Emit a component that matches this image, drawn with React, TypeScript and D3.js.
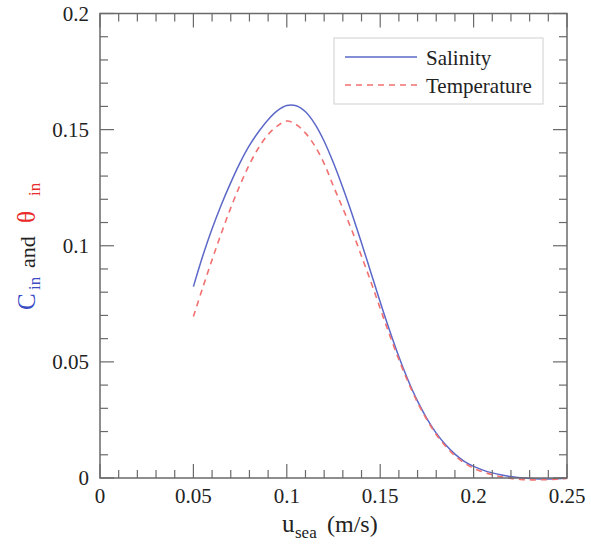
import React from "react";
import * as d3 from "d3";

const uSea = [0.05,0.055,0.06,0.065,0.07,0.075,0.08,0.085,0.09,0.095,0.1,0.105,0.11,0.115,0.12,0.125,0.13,0.135,0.14,0.145,0.15,0.155,0.16,0.165,0.17,0.175,0.18,0.185,0.19,0.195,0.2,0.205,0.21,0.215,0.22,0.225,0.23,0.235,0.24,0.245,0.25];
const salinity = [0.0824,0.0956,0.1073,0.1178,0.1272,0.1358,0.1432,0.1492,0.1543,0.1582,0.1604,0.1603,0.1577,0.1525,0.1450,0.1356,0.1250,0.1135,0.1012,0.0885,0.0758,0.0636,0.0522,0.0420,0.0331,0.0256,0.0193,0.0143,0.0103,0.0072,0.0050,0.0034,0.0022,0.0013,0.0006,0.0001,-0.0002,-0.0004,-0.0004,-0.0003,-0.0001];
const temperature = [0.0695,0.0820,0.0940,0.1055,0.1163,0.1262,0.1350,0.1423,0.1479,0.1516,0.1537,0.1522,0.1485,0.1430,0.1354,0.1256,0.1161,0.1063,0.0955,0.0845,0.0730,0.0617,0.0510,0.0412,0.0325,0.0251,0.0187,0.0137,0.0096,0.0065,0.0042,0.0026,0.0014,0.0005,-0.0002,-0.0006,-0.0008,-0.0008,-0.0007,-0.0005,-0.0002];
const xTicks = [0, 0.05, 0.1, 0.15, 0.2, 0.25];
const xTickLabels = ["0", "0.05", "0.1", "0.15", "0.2", "0.25"];
const yTicks = [0, 0.05, 0.1, 0.15, 0.2];
const yTickLabels = ["0", "0.05", "0.1", "0.15", "0.2"];
const seriesNames = ["Salinity", "Temperature"];

const W = 591, H = 545;
const L = 100, R = 567, T = 13.5, B = 478;
const FONT = "Liberation Serif";
const AX = "#6a6a6a";
const BLUE = "#5b68c8";
const RED = "#f27070";
const TBLUE = "#3a4cc4";
const TRED = "#e82a2a";
const TS = { fontFamily: FONT };

export default function App() {
  const x = d3.scaleLinear().domain([0, 0.25]).range([L, R]);
  const y = d3.scaleLinear().domain([0, 0.2]).range([B, T]);
  const line = d3.line<number>().x((_, i) => x(uSea[i])).y(d => y(d)).curve(d3.curveCatmullRom.alpha(0.5));
  const xMinor = d3.range(0, 26).map(i => i * 0.01).filter(v => Math.round(v * 100) % 5 !== 0);
  const yMinor = d3.range(0, 21).map(i => i * 0.01).filter(v => Math.round(v * 100) % 5 !== 0);
  const MJ = 14, MN = 8;
  return (
    <svg width={W} height={H} style={{ position: "absolute", left: 0, top: 0, background: "#fff", fontFamily: FONT }}>
      <rect x={0} y={0} width={W} height={H} fill="#fff" />
      <path d={line(salinity) || ""} fill="none" stroke={BLUE} strokeWidth={1.5} />
      <path d={line(temperature) || ""} fill="none" stroke={RED} strokeWidth={1.6} strokeDasharray="6,5" />
      <rect x={L} y={T} width={R - L} height={B - T} fill="none" stroke={AX} strokeWidth={1.5} />
      {xTicks.map(v => (
        <g key={"xm" + v}>
          <line x1={x(v)} x2={x(v)} y1={B} y2={B - MJ} stroke={AX} strokeWidth={1.2} />
          <line x1={x(v)} x2={x(v)} y1={T} y2={T + MJ} stroke={AX} strokeWidth={1.2} />
        </g>
      ))}
      {xMinor.map(v => (
        <g key={"xn" + v}>
          <line x1={x(v)} x2={x(v)} y1={B} y2={B - MN} stroke={AX} strokeWidth={1.2} />
          <line x1={x(v)} x2={x(v)} y1={T} y2={T + MN} stroke={AX} strokeWidth={1.2} />
        </g>
      ))}
      {yTicks.map(v => (
        <g key={"ym" + v}>
          <line x1={L} x2={L + MJ} y1={y(v)} y2={y(v)} stroke={AX} strokeWidth={1.2} />
          <line x1={R} x2={R - MJ} y1={y(v)} y2={y(v)} stroke={AX} strokeWidth={1.2} />
        </g>
      ))}
      {yMinor.map(v => (
        <g key={"yn" + v}>
          <line x1={L} x2={L + MN} y1={y(v)} y2={y(v)} stroke={AX} strokeWidth={1.2} />
          <line x1={R} x2={R - MN} y1={y(v)} y2={y(v)} stroke={AX} strokeWidth={1.2} />
        </g>
      ))}
      {xTicks.map((v, i) => (
        <text key={"xl" + v} x={x(v)} y={503} textAnchor="middle" fontSize={21} fill="#222" style={TS}>{xTickLabels[i]}</text>
      ))}
      {yTicks.map((v, i) => (
        <text key={"yl" + v} x={89} y={y(v) + 7} textAnchor="end" fontSize={21} fill="#222" style={TS}>{yTickLabels[i]}</text>
      ))}
      {/* x title */}
      <g fill="#222" style={TS}>
        <text x={282} y={532} fontSize={25}>u</text>
        <text x={295} y={538} fontSize={17}>sea</text>
        <text x={327} y={532} fontSize={24}>(m/s)</text>
      </g>
      {/* y title, reading bottom to top */}
      <g transform="translate(35,0) rotate(-90)" style={TS}>
        <text x={-310} y={0} fontSize={25} fill={TBLUE}>C</text>
        <text x={-290} y={5} fontSize={17} fill={TBLUE}>in</text>
        <text x={-268} y={0} fontSize={22} fill="#222">and</text>
        <text x={-223} y={0} fontSize={25} fill={TRED}>θ</text>
        <text x={-196} y={5} fontSize={17} fill={TRED}>in</text>
      </g>
      {/* legend */}
      <rect x={334} y={38} width={209} height={66} fill="#fff" stroke="#d0d0d0" strokeWidth={1} />
      <line x1={345} x2={417} y1={57} y2={57} stroke={BLUE} strokeWidth={1.5} />
      <line x1={345} x2={417} y1={85} y2={85} stroke={RED} strokeWidth={1.6} strokeDasharray="6,5" />
      <text x={426} y={65} fontSize={21} fill="#222" style={TS}>{seriesNames[0]}</text>
      <text x={426} y={93} fontSize={21} fill="#222" style={TS}>{seriesNames[1]}</text>
    </svg>
  );
}
